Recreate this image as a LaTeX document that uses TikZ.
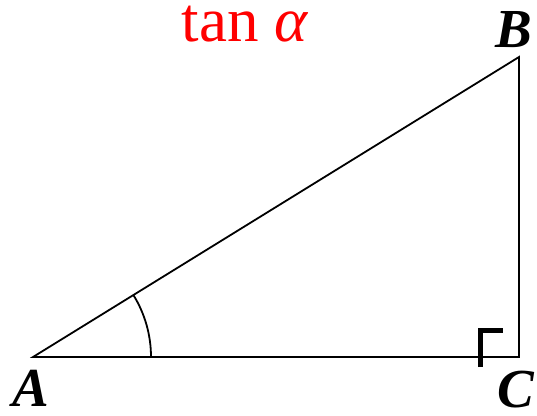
\documentclass[tikz,border=0pt]{standalone}
\usepackage{fontspec}
\setmainfont{Liberation Serif}
\usetikzlibrary{positioning}

\begin{document}
\begin{tikzpicture}[
  x=1bp,y=1bp,
  side/.style={draw=black,line width=1.8bp},
  vlabel/.style={font=\fontsize{55bp}{55bp}\selectfont\bfseries\itshape,inner sep=0pt,anchor=base,text height=38bp,text depth=0pt},
  title/.style={font=\fontsize{63bp}{63bp}\selectfont,text=red,inner sep=0pt,anchor=base,text height=36bp,text depth=0pt},
  rightsign/.style={draw=black,line width=5.5bp}
]
\useasboundingbox (0,0) rectangle (537,415);
\coordinate (A) at (33,58);
\coordinate (C) at (519,58);
\coordinate (B) at (519,358);
\draw[side] (A) -- (C) -- (B) -- cycle;
% angle at A
\draw[side] (A) ++(0:118) arc (0:31.69:118);
% right angle sign
\coordinate (m1) at (480.5,48);
\coordinate (m2) at (503,84.5);
\draw[rightsign] (m1) |- (m2);
\node[vlabel] (lA) at (31,9) {A};
\node[vlabel] (lB) at (514,368) {B};
\node[vlabel] (lC) at (516,8) {C};
\node[title] (t) at (245,374) {tan \textit{α}};
\end{tikzpicture}
\end{document}
